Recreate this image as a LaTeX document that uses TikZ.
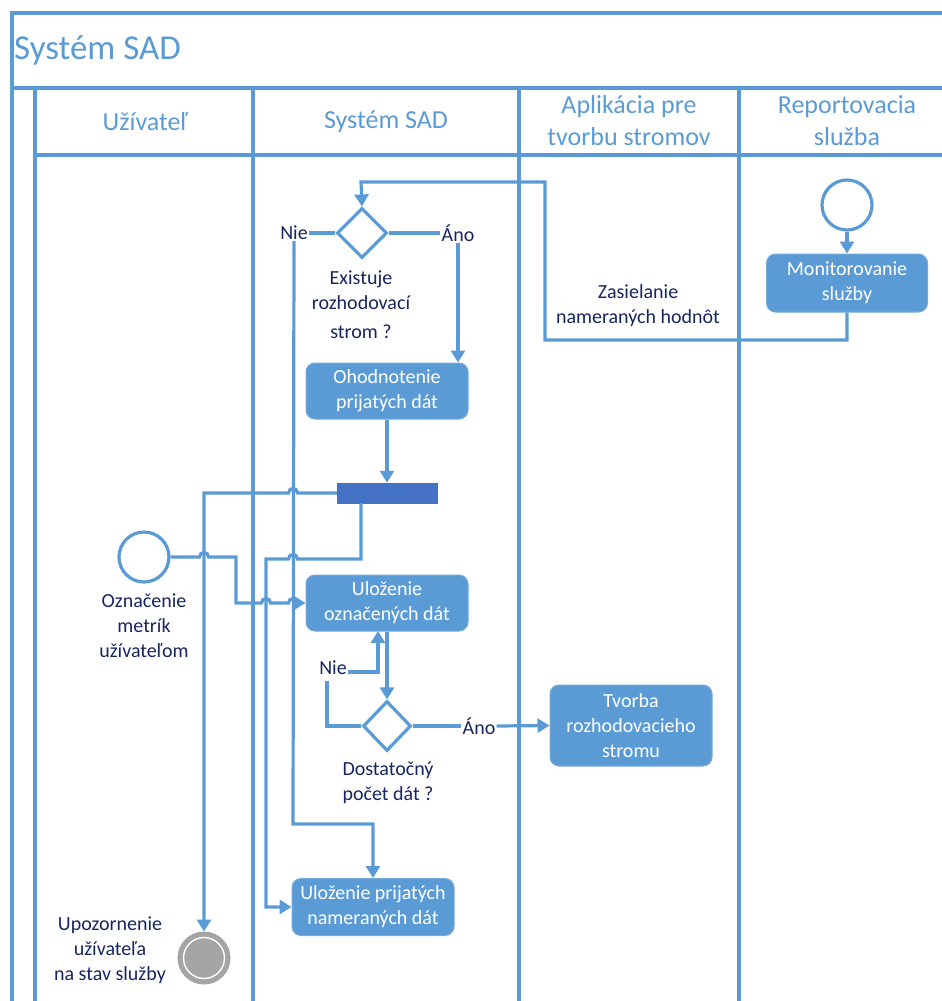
\documentclass[tikz,border=0pt]{standalone}
\usepackage{fontspec}
\setmainfont{Carlito}
\usetikzlibrary{arrows.meta,shapes.geometric}
\definecolor{lane}{HTML}{5B9BD5}
\definecolor{boxfill}{HTML}{5B9BD5}
\definecolor{barfill}{HTML}{4472C4}
\definecolor{ink}{HTML}{17255E}
\definecolor{endgray}{HTML}{A5A5A5}
% line hop over a crossing vertical line at (#1,#2)
\newcommand\hopR[2]{-- (#1-4.5,#2) .. controls (#1-4.5,#2-6) and (#1+4.5,#2-6) .. (#1+4.5,#2)}
\newcommand\hopL[2]{-- (#1+4.5,#2) .. controls (#1+4.5,#2-6) and (#1-4.5,#2-6) .. (#1-4.5,#2)}
\begin{document}
\begin{tikzpicture}[x=1pt,y=-1pt,
  frame/.style={draw=lane,line width=3.2pt},
  flow/.style={draw=lane,line width=3.2pt},
  arr/.style={flow,-{Triangle[width=14pt,length=12pt]}},
  actbox/.style={rectangle,rounded corners=9pt,fill=boxfill,draw=boxfill!85!white,line width=1pt,
    text=white,font=\fontsize{20}{25}\selectfont,align=center,inner sep=0pt,
    minimum width=162pt,minimum height=56pt},
  lbl/.style={text=ink,font=\fontsize{20}{25}\selectfont,align=center,inner sep=1pt},
  hdr/.style={text=lane,font=\fontsize{26}{32}\selectfont,align=center,inner sep=0pt},
  startc/.style={circle,draw=lane,fill=white,line width=3.2pt,minimum size=50pt,inner sep=0pt},
  decision/.style={diamond,draw=lane,fill=white,line width=3.2pt,minimum width=50pt,minimum height=50pt,inner sep=0pt},
  forkbar/.style={rectangle,fill=barfill,draw=barfill,line width=0.5pt,minimum width=100pt,minimum height=20pt,inner sep=0pt},
  endc/.style={circle,draw=endgray,fill=endgray,line width=3pt,minimum size=50pt,inner sep=0pt,
    path picture={\draw[white,line width=1.4pt] (path picture bounding box.center) circle (20.5pt);}},
]
\useasboundingbox (0,0) rectangle (942,1001);
\clip (0,0) rectangle (942,1001);

% pool frame and swimlanes
\draw[frame] (12,1010) -- (12,13) -- (960,13);
\draw[frame] (12,88) -- (960,88);
\draw[frame] (35,1010) -- (35,88);
\draw[frame] (35,155) -- (960,155);
\draw[frame] (253,88) -- (253,1010);
\draw[frame] (519,88) -- (519,1010);
\draw[frame] (739,88) -- (739,1010);

\node[hdr,anchor=west,font=\fontsize{35}{40}\selectfont] (title) at (14,50) {Systém SAD};
\node[hdr] (hU) at (145,122) {Užívateľ};
\node[hdr] (hS) at (386,122) {Systém SAD};
\node[hdr] (hA) at (629,121) {Aplikácia pre\\tvorbu stromov};
\node[hdr] (hR) at (847,121) {Reportovacia\\služba};

% activity nodes
\node[startc] (repStart) at (847,205) {};
\node[actbox,minimum width=161pt,minimum height=58pt] (monitor) at (847,283) {Monitorovanie\\služby};
\node[decision] (dec1) at (362,233) {};
\node[lbl] (nie1) at (294,233) {Nie};
\node[lbl] (ano1) at (458,233) {Áno};
\node[lbl] (dec1txt) at (361,305) {Existuje\\rozhodovací\\[4pt]strom ?};
\node[lbl] (sendtxt) at (638,306) {Zasielanie\\nameraných hodnôt};
\node[actbox] (ohod) at (387,391) {Ohodnotenie\\prijatých dát};
\node[forkbar] (fork) at (387,493) {};
\node[startc] (userStart) at (144,557) {};
\node[lbl] (usertxt) at (144,626) {Označenie\\metrík\\užívateľom};
\node[actbox] (ulozOzn) at (387,603) {Uloženie\\označených dát};
\node[decision,minimum width=48pt] (dec2) at (387,726) {};
\node[lbl] (nie2) at (333,668) {Nie};
\node[lbl] (ano2) at (479,726) {Áno};
\node[lbl] (dec2txt) at (388,783) {Dostatočný\\počet dát ?};
\node[actbox,minimum height=81pt] (tvorba) at (631,725.5) {Tvorba\\rozhodovacieho\\stromu};
\node[actbox,minimum height=57pt] (ulozPrij) at (373,907) {Uloženie prijatých\\nameraných dát};
\node[endc] (endNode) at (204,958) {};
\node[lbl] (endtxt) at (110,950) {Upozornenie\\užívateľa\\na stav služby};

% connectors
\draw[arr] (repStart.south) -- (monitor.north);
\draw[arr] (monitor.south) -- (847,340) -- (545,340) -- (545,182) -- (361,182) -- (dec1.north);
\draw[flow] (dec1.west) -- (nie1.east);
\draw[flow] (dec1.east) -- (ano1.west);
\draw[arr] (ano1.south) -- (ano1.south |- ohod.north);
\draw[arr] (nie1.south) -- (293,824) -- (373,824) -- (ulozPrij.north);
\draw[arr] (ohod.south) -- (fork.north);
\draw[arr] (fork.west) \hopL{293}{493} -- (204,493) -- (endNode.north);
\draw[arr] (361,503) -- (361,559) \hopL{293}{559} -- (266,559) -- (266,907) -- (ulozPrij.west);
\draw[arr] (userStart.east) \hopR{204}{557} -- (236,557) -- (236,603) \hopR{266}{603} \hopR{293}{603} -- (ulozOzn.west);
\draw[arr] (ulozOzn.south) -- (dec2.north);
\draw[flow] (dec2.west) -- (327,726) -- (327,681);
\draw[arr] (nie2.east |- 0,672) -- (378,672) -- (378,631);
\draw[flow] (dec2.east) -- (ano2.west);
\draw[arr] (ano2.east) -- (tvorba.west);
\end{tikzpicture}
\end{document}
